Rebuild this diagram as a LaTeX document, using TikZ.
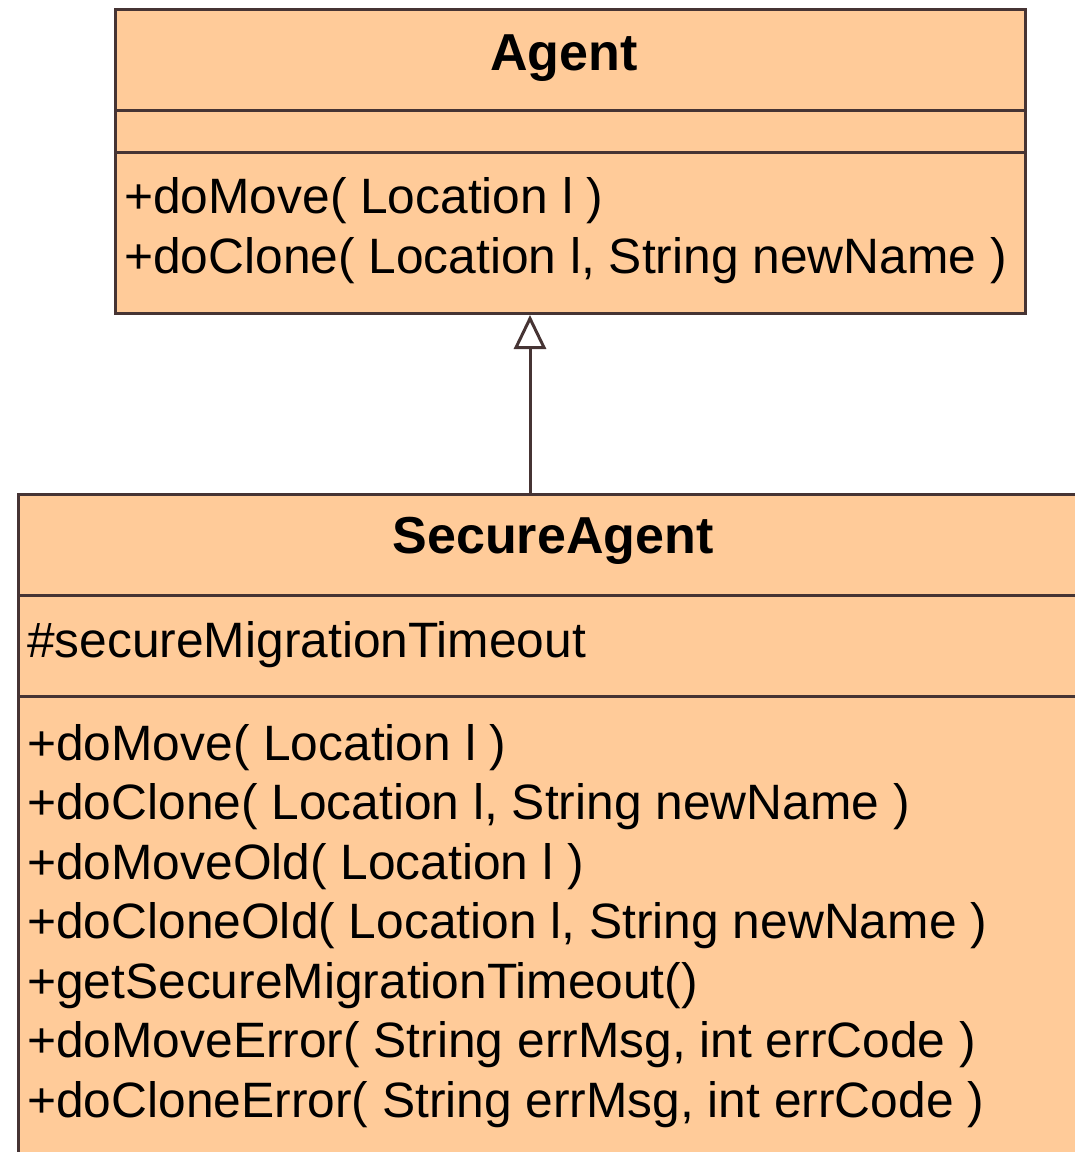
\documentclass[tikz,border=0pt]{standalone}
\usepackage{fontspec}
\setmainfont{Liberation Sans}
\usetikzlibrary{arrows.meta}
\definecolor{umlfill}{RGB}{255,203,153}
\definecolor{umlline}{RGB}{70,52,52}
\begin{document}
\begin{tikzpicture}[x=1pt,y=-1pt,
  classbox/.style={draw=umlline, fill=umlfill, line width=3pt, rectangle, inner sep=0pt, anchor=north west},
  sepline/.style={draw=umlline, line width=3pt},
  member/.style={anchor=base west, inner sep=0pt, font=\fontsize{49.7}{60}\selectfont},
  classtitle/.style={anchor=base, inner sep=0pt, font=\fontsize{52}{60}\selectfont\bfseries},
  gen/.style={-{Triangle[open,length=34pt,width=32pt]}, line width=3pt, draw=umlline}]
\useasboundingbox (0,0) rectangle (1075,1152);
\clip (0,0) rectangle (1075,1152);
% Agent class
\node[classbox, minimum width=910pt, minimum height=304pt] (agent) at (114,8) {};
\draw[sepline] (agent.west |- 0,110) -- (agent.east |- 0,110);
\draw[sepline] (agent.west |- 0,152) -- (agent.east |- 0,152);
\node[classtitle] (agentname) at (564,70) {Agent};
\node[member] (am1) at (124,213) {+doMove( Location l )};
\node[member] (am2) at (124,273) {+doClone( Location l, String newName )};
% SecureAgent class
\node[classbox, minimum width=1072pt, minimum height=700pt] (secure) at (17,493) {};
\draw[sepline] (secure.west |- 0,595) -- (secure.east |- 0,595);
\draw[sepline] (secure.west |- 0,696) -- (secure.east |- 0,696);
\node[classtitle] (securename) at (553,553) {SecureAgent};
\node[member] (sa1) at (27,657) {\#secureMigrationTimeout};
\node[member] (sm1) at (27,760) {+doMove( Location l )};
\node[member] (sm2) at (27,819.5) {+doClone( Location l, String newName )};
\node[member] (sm3) at (27,879) {+doMoveOld( Location l )};
\node[member] (sm4) at (27,938.5) {+doCloneOld( Location l, String newName )};
\node[member] (sm5) at (27,998) {+getSecureMigrationTimeout()};
\node[member] (sm6) at (27,1057.5) {+doMoveError( String errMsg, int errCode )};
\node[member] (sm7) at (27,1117) {+doCloneError( String errMsg, int errCode )};
% generalization
\coordinate (genfoot) at (530,493);
\draw[gen] (genfoot) -- (genfoot |- agent.south);
\end{tikzpicture}
\end{document}
